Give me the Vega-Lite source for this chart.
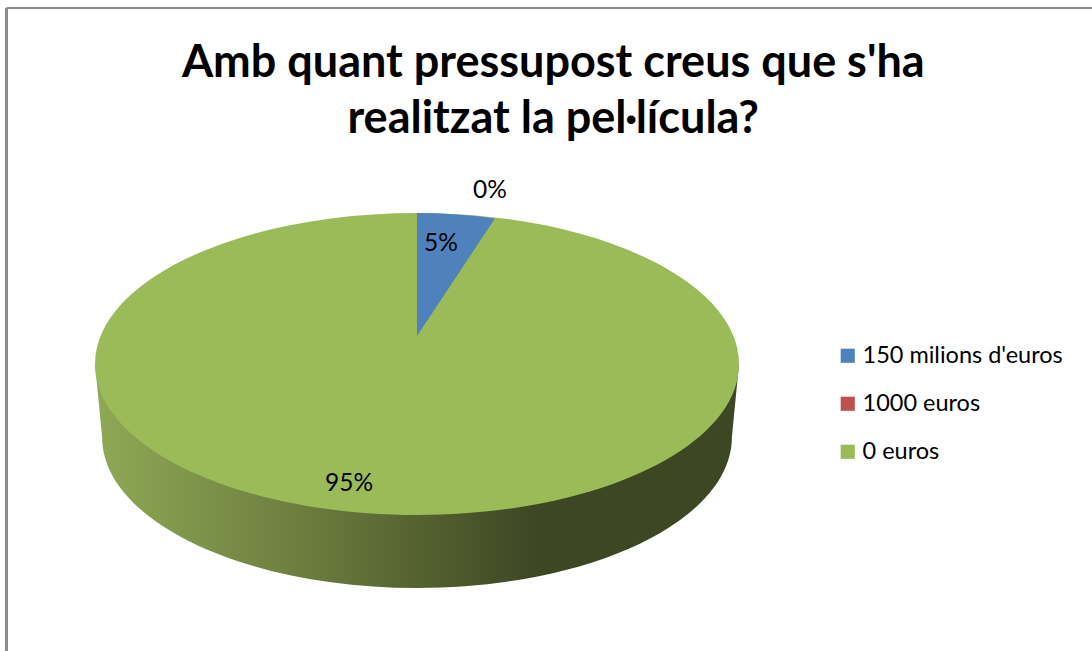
{
"$schema":"https://vega.github.io/schema/vega-lite/v6.json",
"width":1085.5,"height":643,
"autosize":{"type":"none"},
"padding":{"left":6.5,"top":8,"right":0,"bottom":0},
"background":"white",
"config":{"view":{"stroke":null}},
"title":{"text":["Amb quant pressupost creus que s'ha","realitzat la pel·lícula?"],"font":"Lato","fontWeight":"bold","fontSize":45,"lineHeight":56,"color":"#000000","anchor":"middle","baseline":"top","dx":4,"dy":135,"offset":0},
"data":{"values":[
{"category":"0 euros","share":0.95},
{"category":"1000 euros","share":0},
{"category":"150 milions d'euros","share":0.05}
]},
"layer":[
{"data":{"values":[{"edge":"left"}]},"mark":{"type":"rule","color":"#8c8c8c","strokeWidth":3},
 "encoding":{"x":{"datum":0,"type":"quantitative","scale":{"domain":[0,1]},"axis":null}}},
{"data":{"values":[{"edge":"top"}]},"mark":{"type":"rule","color":"#8c8c8c","strokeWidth":2},
 "encoding":{"y":{"datum":1,"type":"quantitative","scale":{"domain":[0,1]},"axis":null}}},
{"mark":{"type":"point","shape":"square","filled":true,"opacity":1,"size":1},
 "encoding":{
  "x":{"datum":0.37817,"type":"quantitative","axis":null},"y":{"datum":0.44635,"type":"quantitative","axis":null},
  "color":{"field":"category","type":"nominal","scale":{"domain":["150 milions d'euros","1000 euros","0 euros"],"range":["#4f81bd","#c0504d","#9bbb59"]},
   "legend":{"title":null,"orient":"none","legendX":829.5,"legendY":336,"symbolType":"square","symbolSize":200,"labelFont":"Lato","labelFontSize":23.5,"labelColor":"#000000","labelOffset":3,"labelLimit":400,"rowPadding":23,"padding":0,"symbolStrokeWidth":0}}
 }},
{"transform":[{"filter":"datum.category === '0 euros'"}],
 "mark":{"type":"point","filled":true,"opacity":1,"size":414736,
  "shape":"M-1,0 L-.978,.2267 C-.978,.4857 -.54,.6957 0,.6957 C.54,.6957 .978,.4857 .978,.2267 L1,0 Z",
  "fill":{"gradient":"linear","x1":0,"y1":0,"x2":1,"y2":0,"stops":[{"offset":0,"color":"#8fa956"},{"offset":0.3,"color":"#6f8040"},{"offset":0.68,"color":"#3e4723"},{"offset":1,"color":"#3e4723"}]}},
 "encoding":{"x":{"datum":0.37817,"type":"quantitative","axis":null},"y":{"datum":0.44635,"type":"quantitative","axis":null}}},
{"transform":[{"filter":"datum.category === '0 euros'"}],
 "mark":{"type":"point","filled":true,"opacity":1,"size":414736,
  "shape":"M-1,0 C-1,-.259 -.5523,-.469 0,-.469 C.5523,-.469 1,-.259 1,0 C1,.259 .5523,.469 0,.469 C-.5523,.469 -1,.259 -1,0 Z"},
 "encoding":{
  "x":{"datum":0.37817,"type":"quantitative","axis":null},"y":{"datum":0.44635,"type":"quantitative","axis":null},
  "color":{"field":"category","type":"nominal","legend":null}
 }},
{"transform":[{"filter":"datum.category === '150 milions d\\'euros'"}],
 "mark":{"type":"point","filled":true,"opacity":1,"size":414736,
  "shape":"M0,-.087 L0,-.469 C.08,-.469 .164,-.463 .242,-.452 Z"},
 "encoding":{
  "x":{"datum":0.37817,"type":"quantitative","axis":null},"y":{"datum":0.44635,"type":"quantitative","axis":null},
  "color":{"field":"category","type":"nominal","legend":null}
 }},
{"transform":[{"filter":"datum.category === '150 milions d\\'euros'"}],
 "mark":{"type":"text","font":"Lato","fontSize":24.5,"color":"#000000","dx":24,"dy":-120},
 "encoding":{"x":{"datum":0.37817,"type":"quantitative","axis":null},"y":{"datum":0.44635,"type":"quantitative","axis":null},"text":{"field":"share","type":"quantitative","format":".0%"}}},
{"transform":[{"filter":"datum.category === '1000 euros'"}],
 "mark":{"type":"text","font":"Lato","fontSize":24.5,"color":"#000000","dx":73,"dy":-173},
 "encoding":{"x":{"datum":0.37817,"type":"quantitative","axis":null},"y":{"datum":0.44635,"type":"quantitative","axis":null},"text":{"field":"share","type":"quantitative","format":".0%"}}},
{"transform":[{"filter":"datum.category === '0 euros'"}],
 "mark":{"type":"text","font":"Lato","fontSize":24.5,"color":"#000000","dx":-68,"dy":120},
 "encoding":{"x":{"datum":0.37817,"type":"quantitative","axis":null},"y":{"datum":0.44635,"type":"quantitative","axis":null},"text":{"field":"share","type":"quantitative","format":".0%"}}}
],
"resolve":{"scale":{"x":"shared","y":"shared"}}
}
